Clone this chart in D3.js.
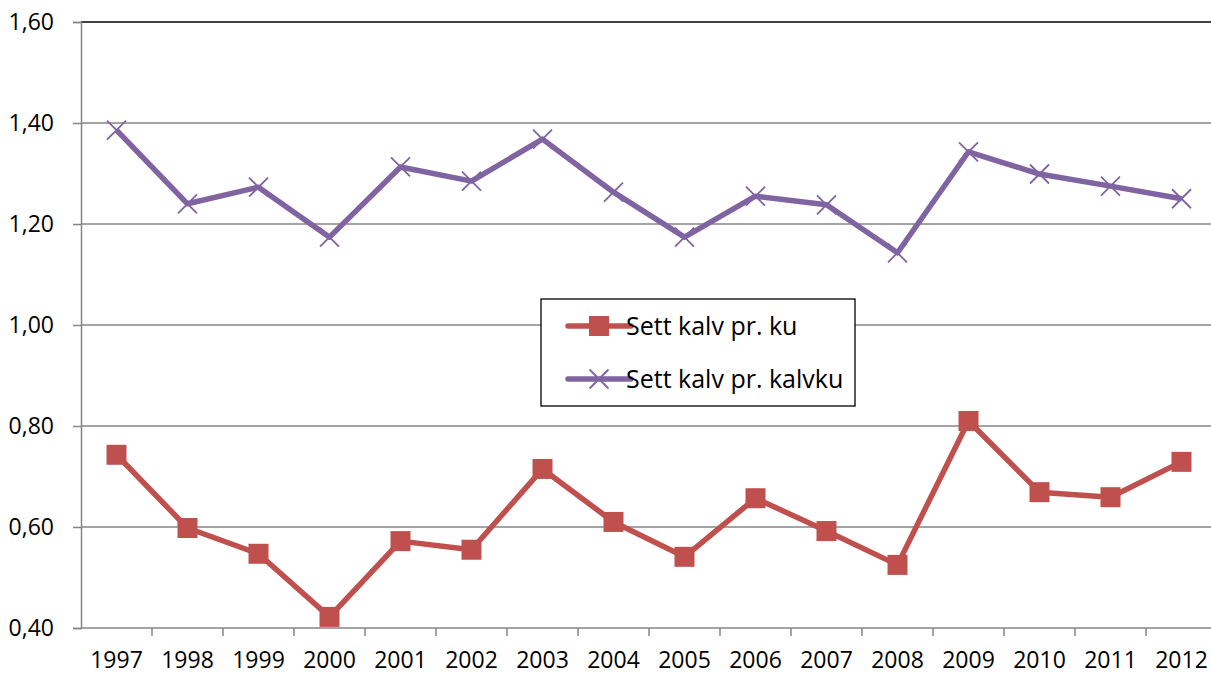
<!DOCTYPE html>
<html>
<head>
<meta charset="utf-8">
<script src="https://cdn.jsdelivr.net/npm/d3@7"></script>
<style>
  body { margin: 0; background: #fff; }
  text { font-family: "Open Sans", "Liberation Sans", sans-serif; }
</style>
</head>
<body>
<div id="chart"></div>
<script>
const years = ['1997', '1998', '1999', '2000', '2001', '2002', '2003', '2004',
  '2005', '2006', '2007', '2008', '2009', '2010', '2011', '2012'];
const kalvPrKu = [0.743, 0.598, 0.547, 0.422, 0.572, 0.555, 0.715, 0.610,
  0.541, 0.657, 0.592, 0.525, 0.810, 0.669, 0.659, 0.729];
const kalvPrKalvku = [1.386, 1.240, 1.273, 1.174, 1.313, 1.285, 1.368, 1.263,
  1.174, 1.255, 1.238, 1.143, 1.343, 1.299, 1.275, 1.250];
const yTicks = [0.4, 0.6, 0.8, 1.0, 1.2, 1.4, 1.6];
const seriesNames = ['Sett kalv pr. ku', 'Sett kalv pr. kalvku'];

const width = 1211, height = 675;
const margin = { top: 22, right: -6, bottom: 47, left: 81 };
const innerW = width - margin.left - margin.right;
const innerH = height - margin.top - margin.bottom;

const svg = d3.select('#chart').append('svg')
  .attr('width', width)
  .attr('height', height);

const g = svg.append('g')
  .attr('transform', 'translate(' + margin.left + ',' + margin.top + ')');

const x = d3.scaleBand().domain(years).range([0, innerW]);
const y = d3.scaleLinear().domain([0.4, 1.6]).range([innerH, 0]);
const fmt = v => d3.format('.2f')(v).replace('.', ',');

// gridlines
g.append('g')
  .selectAll('line')
  .data(yTicks.slice(1, -1))
  .join('line')
  .attr('x1', 0).attr('x2', innerW)
  .attr('y1', d => y(d)).attr('y2', d => y(d))
  .attr('stroke', '#868686')
  .attr('stroke-width', 1.3);

// top border
g.append('line')
  .attr('x1', 0).attr('x2', innerW)
  .attr('y1', 0).attr('y2', 0)
  .attr('stroke', '#000')
  .attr('stroke-width', 1.3);

// y axis
const yAxis = g.append('g')
  .call(d3.axisLeft(y).tickValues(yTicks).tickFormat(fmt).tickSize(8).tickPadding(19));
yAxis.select('.domain').attr('stroke', '#868686').attr('stroke-width', 1.5);
yAxis.selectAll('.tick line').attr('stroke', '#868686').attr('stroke-width', 1.5);
yAxis.selectAll('.tick text').attr('font-size', 23).attr('fill', '#000')
  .attr('font-family', '"Open Sans", sans-serif');

// x axis
const xAxis = g.append('g')
  .attr('transform', 'translate(0,' + innerH + ')')
  .call(d3.axisBottom(x).tickSize(0).tickPadding(24));
xAxis.select('.domain').remove();
xAxis.selectAll('.tick text').attr('font-size', 23).attr('fill', '#000')
  .attr('font-family', '"Open Sans", sans-serif');

g.append('line')
  .attr('x1', 0).attr('x2', innerW)
  .attr('y1', innerH).attr('y2', innerH)
  .attr('stroke', '#868686').attr('stroke-width', 1.5);

g.append('g')
  .selectAll('line')
  .data(years.slice(1))
  .join('line')
  .attr('x1', d => x(d)).attr('x2', d => x(d))
  .attr('y1', innerH).attr('y2', innerH + 8)
  .attr('stroke', '#868686').attr('stroke-width', 1.5);

const cx = d => x(d) + x.bandwidth() / 2;
const line = d3.line()
  .x((d, i) => cx(years[i]))
  .y(d => y(d));

const red = '#C0504D', purple = '#8064A2';

// purple series
g.append('path')
  .datum(kalvPrKalvku)
  .attr('fill', 'none')
  .attr('stroke', purple)
  .attr('stroke-width', 5.5)
  .attr('stroke-linejoin', 'round')
  .attr('d', line);

const cross = (sel, s) => sel
  .attr('d', 'M' + (-s) + ',' + (-s) + 'L' + s + ',' + s + 'M' + (-s) + ',' + s + 'L' + s + ',' + (-s))
  .attr('stroke', purple)
  .attr('stroke-width', 1.8)
  .attr('fill', 'none');

g.append('g')
  .selectAll('path')
  .data(kalvPrKalvku)
  .join('path')
  .attr('transform', (d, i) => 'translate(' + cx(years[i]) + ',' + y(d) + ')')
  .call(cross, 9.5);

// red series
g.append('path')
  .datum(kalvPrKu)
  .attr('fill', 'none')
  .attr('stroke', red)
  .attr('stroke-width', 5.5)
  .attr('stroke-linejoin', 'round')
  .attr('d', line);

g.append('g')
  .selectAll('rect')
  .data(kalvPrKu)
  .join('rect')
  .attr('x', (d, i) => cx(years[i]) - 10)
  .attr('y', d => y(d) - 10)
  .attr('width', 20)
  .attr('height', 20)
  .attr('fill', red);

// legend
const legend = svg.append('g').attr('transform', 'translate(541,299)');
legend.append('rect')
  .attr('width', 314).attr('height', 107)
  .attr('fill', '#fff').attr('stroke', '#000').attr('stroke-width', 1.3);

const items = legend.selectAll('g.item')
  .data(seriesNames)
  .join('g')
  .attr('class', 'item')
  .attr('transform', (d, i) => 'translate(0,' + (27 + i * 53) + ')');

items.append('line')
  .attr('x1', 27).attr('x2', 90)
  .attr('stroke', (d, i) => i === 0 ? red : purple)
  .attr('stroke-width', 5.5)
  .attr('stroke-linecap', 'round');

items.filter((d, i) => i === 0).append('rect')
  .attr('x', 48).attr('y', -10).attr('width', 20).attr('height', 20)
  .attr('fill', red);

items.filter((d, i) => i === 1).append('path')
  .attr('transform', 'translate(58,0)')
  .call(cross, 9.5);

items.append('text')
  .attr('x', 85).attr('y', 0).attr('dy', '0.35em')
  .attr('font-size', 25)
  .text(d => d);
</script>
</body>
</html>
